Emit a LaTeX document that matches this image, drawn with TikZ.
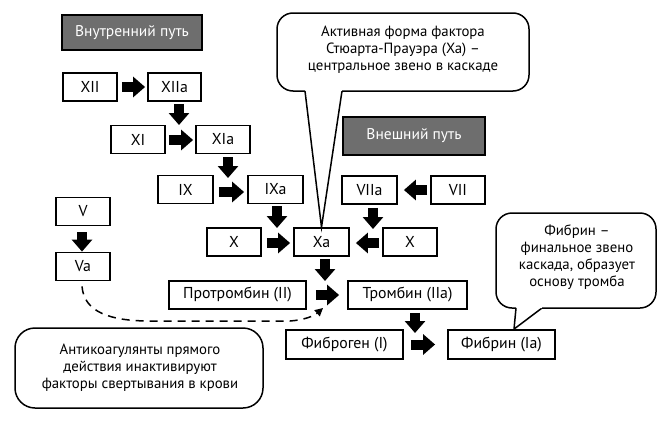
\documentclass[tikz,border=0pt]{standalone}
\usepackage{fontspec}
\setmainfont{PT Sans}
\usetikzlibrary{arrows.meta,calc}
\definecolor{hdrgray}{HTML}{6E6E6E}
\tikzset{
  box/.style={draw, line width=1.8pt, minimum height=28pt, inner sep=0pt, font=\fontsize{15.8}{17}\selectfont},
  hdr/.style={draw, line width=1.8pt, fill=hdrgray, text=white, inner sep=0pt, font=\fontsize{15.5}{17}\selectfont},
  fat/.style={line width=10pt, -{Triangle[length=12pt,width=20pt]}},
  callout/.style={draw, line width=1.5pt, rounded corners=16pt, fill=white},
  ctext/.style={align=center, inner sep=0pt, font=\fontsize{14.8}{17.2}\selectfont}
}
\begin{document}
\begin{tikzpicture}[x=1pt,y=-1pt]
\useasboundingbox (0,0) rectangle (666,423);
% header boxes
\node[hdr, minimum width=140pt, minimum height=35pt] (intr) at (132,32.5) {Внутренний путь};
\node[hdr, minimum width=142pt, minimum height=38pt] (extr) at (414,136) {Внешний путь};
% factor boxes
\node[box, minimum width=54pt] (XII) at (90,87) {XII};
\node[box, minimum width=53pt] (XIIa) at (174.5,87) {XIIa};
\node[box, minimum width=54pt] (XI) at (138,139.5) {XI};
\node[box, minimum width=54pt] (XIa) at (223,139.5) {XIa};
\node[box, minimum width=55pt] (IX) at (185.5,189.5) {IX};
\node[box, minimum width=55pt] (IXa) at (275.5,189.5) {IXa};
\node[box, minimum width=54pt] (V) at (83,211.5) {V};
\node[box, minimum width=54pt] (Va) at (83,266.5) {Va};
\node[box, minimum width=54pt] (Xl) at (234,242) {X};
\node[box, minimum width=55pt] (Xa) at (321.5,242) {Xa};
\node[box, minimum width=54pt] (Xr) at (410,242) {X};
\node[box, minimum width=55pt] (VIIa) at (369.5,190) {VIIa};
\node[box, minimum width=54pt] (VII) at (458,190) {VII};
\node[box, minimum width=137pt] (pro) at (237.5,295) {Протромбин (II)};
\node[box, minimum width=119pt] (thr) at (407.5,295) {Тромбин (IIa)};
\node[box, minimum width=117pt, minimum height=29pt] (fbg) at (344.5,344.5) {Фиброген (I)};
\node[box, minimum width=107pt, minimum height=29pt] (fbn) at (501.5,344.5) {Фибрин (Ia)};
% arrow end coordinates
\coordinate (a1) at (179,125);
\coordinate (a2) at (228,178);
\coordinate (a3) at (277,228);
\coordinate (a4) at (373,229);
\coordinate (a5) at (325,281);
\coordinate (a6) at (415,333);
% fat arrows
\draw[fat] ($(XII.east)+(4,0)$) -- ($(XIIa.west)+(-2,0)$);
\draw[fat] ($(XI.east)+(3,0.5)$) -- ($(XIa.west)+(-2,0.5)$);
\draw[fat] ($(IX.east)+(5,2.5)$) -- ($(IXa.west)+(-3,2.5)$);
\draw[fat] ($(Xl.east)+(5,1)$) -- ($(Xa.west)+(-3,1)$);
\draw[fat] ($(Xr.west)+(-3,1)$) -- ($(Xa.east)+(6,1)$);
\draw[fat] ($(VII.west)+(-3,0)$) -- ($(VIIa.east)+(6,0)$);
\draw[fat] ($(pro.east)+(9,0)$) -- ($(thr.west)+(-8,0)$);
\draw[fat] ($(fbg.east)+(7,0)$) -- ($(fbn.west)+(-12,0)$);
\draw[fat] (XIIa.south -| a1) ++(0,2) -- (a1);
\draw[fat] (XIa.south -| a2) ++(0,3) -- (a2);
\draw[fat] (IXa.south -| a3) ++(0,2) -- (a3);
\draw[fat] (VIIa.south -| a4) ++(0,3) -- (a4);
\draw[fat] (Xa.south -| a5) ++(0,2) -- (a5);
\draw[fat] (thr.south -| a6) ++(0,3) -- (a6);
\draw[fat] ($(V.south)+(-1,6)$) -- ($(Va.north)+(-1,0)$);
% dashed inhibition curve
\coordinate (dtip) at (323,308);
\draw[line width=1.5pt, dash pattern=on 8pt off 6pt, -{Triangle[length=8pt,width=8pt]}]
  ($(Va.south)+(-1,5)$) .. controls (84,312) and (110,321) .. (150,321) -- (290,321) .. controls (304,320) and (314,316) .. (dtip);
% callout top
\draw[line width=1.5pt, fill=white] (305,91) -- (Xa.north) -- (342,91);
\draw[callout] (305,91) [rounded corners=16pt] -- (277,91) -- (277,13) -- (529,13) -- (529,91) [sharp corners] -- (342,91);
\node[ctext] (c1) at (403,50) {Активная форма фактора\\Стюарта-Прауэра (Xa) –\\центральное звено в каскаде};
% callout right
\coordinate (ftip) at ($(fbn.north)+(12.5,0)$);
\draw[line width=1.5pt] (516,308) -- (ftip) -- (542,308);
\draw[callout] (516,308) [rounded corners=16pt] -- (496,308) -- (496,213) -- (656,213) -- (656,308) [sharp corners] -- (542,308);
\node[ctext] (c2) at (577,257) {Фибрин –\\финальное звено\\каскада, образует\\основу тромба};
% callout bottom-left
\draw[callout, rounded corners=20pt] (15,328) rectangle (263,408);
\node[ctext] (c3) at (140,368) {Антикоагулянты прямого\\действия инактивируют\\факторы свертывания в крови};
\end{tikzpicture}
\end{document}
